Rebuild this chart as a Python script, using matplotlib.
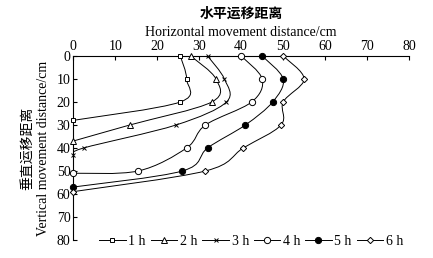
import numpy as np
import matplotlib.pyplot as plt
from matplotlib.path import Path
from matplotlib.patches import PathPatch
from matplotlib.lines import Line2D

plt.rcParams['font.family'] = ['Liberation Serif', 'Noto Sans CJK SC']
plt.rcParams['font.size'] = 10

labels = ['1 h', '2 h', '3 h', '4 h', '5 h', '6 h']
x1 = [25.5, 27, 25.5, 0]
y1 = [0, 10, 20, 28]
x2 = [28, 34, 33, 13.5, 0]
y2 = [0, 10, 20, 30, 37]
x3 = [32, 36, 36.5, 24.5, 2.5, 0]
y3 = [0, 10, 20, 30, 40, 43]
x4 = [40, 45, 42.5, 31.5, 27, 15.5, 0]
y4 = [0, 10, 20, 30, 40, 50, 51]
x5 = [45, 50, 47.5, 41, 32, 26, 0]
y5 = [0, 10, 20, 30, 40, 50, 57]
x6 = [50, 55, 50, 49.5, 40.5, 31.5, 0]
y6 = [0, 10, 20, 30, 40, 50, 59]

series = [(x1, y1), (x2, y2), (x3, y3), (x4, y4), (x5, y5), (x6, y6)]
markers = [('s', 'white', 3.3), ('^', 'white', 3.8), ('x', 'black', 3.5),
           ('o', 'white', 4.5), ('o', 'black', 4.5), ('D', 'white', 3.2)]


def smooth_path(xs, ys, k=1/6.):
    # Catmull-Rom style bezier through the points
    p = np.column_stack([xs, ys]).astype(float)
    verts = [p[0]]
    codes = [Path.MOVETO]
    n = len(p)
    for i in range(n - 1):
        p0 = p[i - 1] if i > 0 else p[i]
        p3 = p[i + 2] if i + 2 < n else p[i + 1]
        c1 = p[i] + (p[i + 1] - p0) * k
        c2 = p[i + 1] - (p3 - p[i]) * k
        verts += [c1, c2, p[i + 1]]
        codes += [Path.CURVE4] * 3
    return Path(verts, codes)


fig = plt.figure(figsize=(4.33, 2.58), dpi=100)
ax = fig.add_axes([0.169, 0.07, 0.776, 0.713])

handles = []
for (xs, ys), (m, fc, ms), lab in zip(series, markers, labels):
    ax.add_patch(PathPatch(smooth_path(xs, ys), fill=False, lw=0.7, ec='black'))
    ax.plot(xs, ys, linestyle='none', marker=m, mfc=fc, mec='black',
            ms=ms, mew=0.7, clip_on=False, zorder=3)
    handles.append(Line2D([], [], color='black', lw=0.7, marker=m, mfc=fc,
                          mec='black', ms=ms, mew=0.7))

ax.set_xlim(0, 80)
ax.set_ylim(80, 0)
ax.set_xticks(range(0, 81, 10))
ax.set_yticks(range(0, 81, 10))
ax.xaxis.tick_top()
ax.xaxis.set_label_position('top')
ax.spines['right'].set_visible(False)
ax.spines['bottom'].set_visible(False)
ax.tick_params(direction='in', length=3, width=0.8, pad=2, labelsize=10)
ax.set_xlabel('Horizontal movement distance/cm', labelpad=3)
ax.text(0.5, 1.19, '水平运移距离', transform=ax.transAxes, ha='center',
        va='bottom', fontsize=10, fontweight='bold')
ax.set_ylabel('垂直运移距离\nVertical movement distance/cm', labelpad=5,
              linespacing=1.3)

ax.legend(handles, labels, ncol=6, loc='center', bbox_to_anchor=(0.53, -0.01),
          frameon=False, handlelength=1.9, handletextpad=0.2, columnspacing=0.35,
          fontsize=10)

fig.savefig('out.png', dpi=100)
